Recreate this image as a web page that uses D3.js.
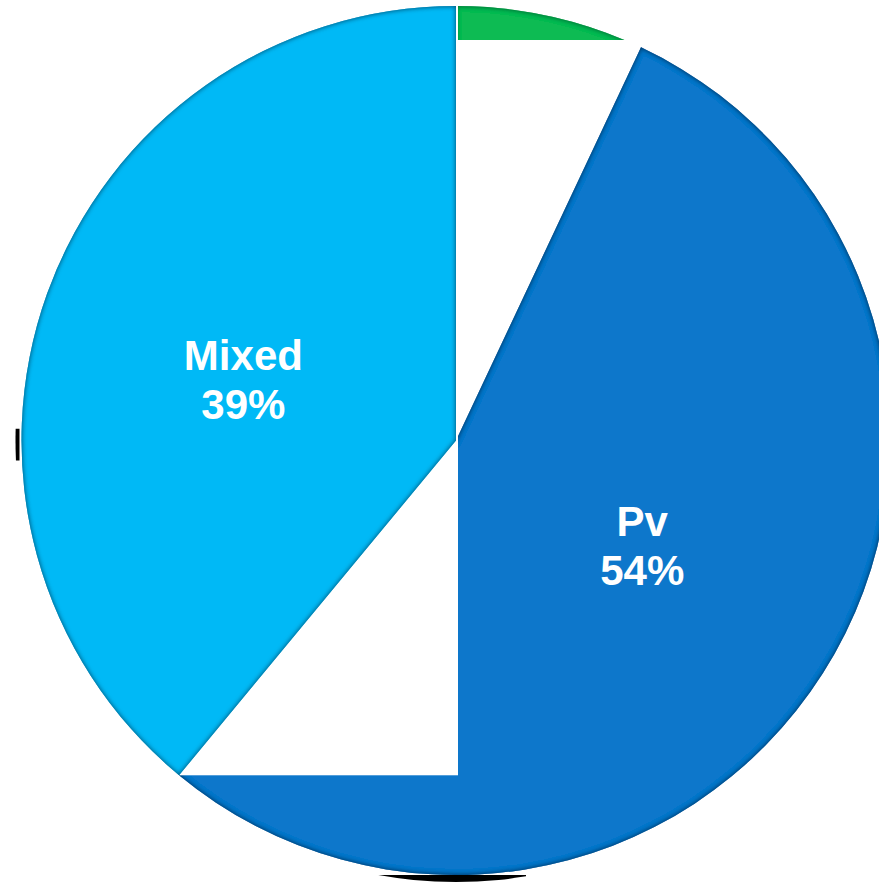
<!DOCTYPE html>
<html>
<head>
<meta charset="utf-8">
<script src="https://cdn.jsdelivr.net/npm/d3@7/dist/d3.min.js"></script>
<style>
  html, body { margin: 0; padding: 0; background: #ffffff; }
  svg { display: block; }
  text { font-family: "Liberation Sans", Arial, Helvetica, sans-serif; font-weight: bold; }
</style>
</head>
<body>
<svg id="chart" width="879" height="885"></svg>
<script>
// Species share of infections
const categories = ["Pf", "Pv", "Mixed"];
const shares = [7, 54, 39];            // percent
const colors = ["#0fbb52", "#0877cb", "#02b9f6"];
const rimColors = ["#08763a", "#053a6a", "#05628a"];

const width = 879, height = 885;
const cx = 456, cy = 440.5, R = 434.5;

const svg = d3.select("#chart");
const defs = svg.append("defs");

// Bevel-like darker rim on the inside of each slice
rimColors.forEach((c, i) => {
  const f = defs.append("filter").attr("id", "rim" + i)
    .attr("x", "-5%").attr("y", "-5%").attr("width", "110%").attr("height", "110%");
  f.append("feGaussianBlur").attr("in", "SourceAlpha").attr("stdDeviation", 2.4).attr("result", "blur");
  f.append("feComposite").attr("in", "SourceAlpha").attr("in2", "blur").attr("operator", "out").attr("result", "edge");
  f.append("feFlood").attr("flood-color", c).attr("flood-opacity", 1).attr("result", "col");
  f.append("feComposite").attr("in", "col").attr("in2", "edge").attr("operator", "in").attr("result", "rim");
  const m = f.append("feMerge");
  m.append("feMergeNode").attr("in", "SourceGraphic");
  m.append("feMergeNode").attr("in", "rim");
  m.append("feMergeNode").attr("in", "rim");
});

const pie = d3.pie().sort(null).value(d => d);
const arcs = pie(shares);
const arc = d3.arc().innerRadius(0).outerRadius(R);

// Label anchor: slightly counter-clockwise of each slice's mid-angle
function labelPos(d, k) {
  const a = (d.startAngle + d.endAngle) / 2 - 0.06;
  return [Math.sin(a) * R * k, -Math.cos(a) * R * k];
}

const g = svg.append("g").attr("transform", `translate(${cx},${cy})`);

// Faint shadow remnants under the pie edge
defs.append("clipPath").attr("id", "shadowClip").call(cp => {
  cp.append("rect").attr("x", -80).attr("y", R).attr("width", 150).attr("height", 20);
  cp.append("rect").attr("x", -R - 20).attr("y", -12).attr("width", 20).attr("height", 32);
});
const shadow = g.append("g").attr("clip-path", "url(#shadowClip)");
shadow.append("circle").attr("r", R).attr("cy", 7).attr("fill", "#000");
shadow.append("circle").attr("r", R).attr("cx", -6).attr("fill", "#000");
shadow.append("circle").attr("r", R).attr("fill", "#fff");

// Small slice: only its outer strip shows
defs.append("clipPath").attr("id", "topStrip")
  .append("rect").attr("x", 0).attr("y", -R - 2).attr("width", R).attr("height", 36);

function drawLabel(sel, i, pos) {
  const t = sel.append("text")
    .attr("text-anchor", "middle")
    .attr("fill", "#ffffff")
    .attr("font-size", 42)
    .attr("transform", `translate(${pos[0]},${pos[1]})`);
  t.append("tspan").attr("x", 0).attr("y", -8).text(categories[i]);
  t.append("tspan").attr("x", 0).attr("y", 41).text(d3.format(".0f")(shares[i]) + "%");
}

// Pf
const pf = g.append("g");
pf.append("path").attr("d", arc(arcs[0])).attr("fill", colors[0])
  .attr("clip-path", "url(#topStrip)").attr("filter", "url(#rim0)");
drawLabel(pf, 0, labelPos(arcs[0], 0.843));

// Pv
const pv = g.append("g");
pv.append("path").attr("d", arc(arcs[1])).attr("fill", colors[1]).attr("filter", "url(#rim1)");
drawLabel(pv, 1, labelPos(arcs[1], 0.49));

// Mixed, laid over its own white bounding tile
const mx = g.append("g");
const mixStartY = -Math.cos(arcs[2].startAngle) * R;
mx.append("rect").attr("x", -R - 2).attr("y", -R - 1)
  .attr("width", R + 4).attr("height", mixStartY + R + 1).attr("fill", "#ffffff");
mx.append("path").attr("d", arc(arcs[2])).attr("fill", colors[2]).attr("filter", "url(#rim2)");
drawLabel(mx, 2, labelPos(arcs[2], 0.51));
</script>
</body>
</html>
